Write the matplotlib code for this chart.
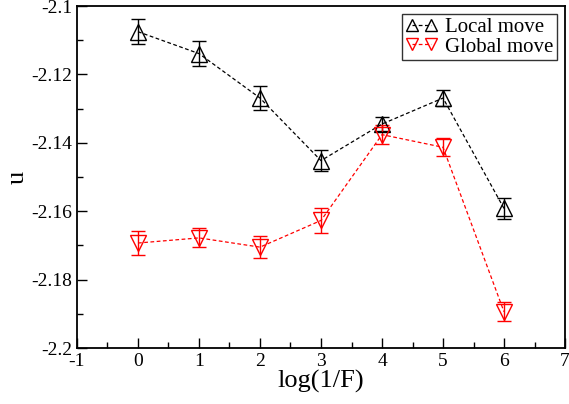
import numpy as np
import matplotlib
matplotlib.use("Agg")
import matplotlib.pyplot as plt
from matplotlib.lines import Line2D
from matplotlib.ticker import MultipleLocator, FuncFormatter

# data
x = [0, 1, 2, 3, 4, 5, 6]
local_u = [-2.1075, -2.1139, -2.1269, -2.1452, -2.1345, -2.1269, -2.1592]
local_err = [0.0037, 0.0037, 0.0035, 0.0030, 0.0020, 0.0023, 0.0030]
global_u = [-2.1693, -2.1678, -2.1705, -2.1627, -2.1376, -2.1413, -2.1894]
global_err = [0.0034, 0.0028, 0.0033, 0.0037, 0.0028, 0.0026, 0.0028]

plt.rcParams['font.family'] = ['Liberation Serif', 'DejaVu Serif']
plt.rcParams['axes.unicode_minus'] = False

fig = plt.figure(figsize=(5.69, 4.04), dpi=100)
ax = fig.add_axes([0.1353, 0.1386, 0.8577, 0.8464])

ax.errorbar(x, local_u, yerr=local_err, color='black', ls='--', lw=0.9,
            marker='^', ms=11, mfc='none', mew=1.0, capsize=5, elinewidth=1.0,
            dashes=(3, 2))
ax.errorbar(x, global_u, yerr=global_err, color='red', ls='--', lw=0.9,
            marker='v', ms=11, mfc='none', mew=1.0, capsize=5, elinewidth=1.0,
            dashes=(3, 2))

ax.set_xlim(-1, 7)
ax.set_ylim(-2.2, -2.1)
ax.xaxis.set_major_locator(MultipleLocator(1))
ax.xaxis.set_minor_locator(MultipleLocator(0.5))
ax.yaxis.set_major_locator(MultipleLocator(0.02))
ax.yaxis.set_minor_locator(MultipleLocator(0.01))
ax.yaxis.set_major_formatter(FuncFormatter(lambda v, p: ('%.2f' % v).rstrip('0')))
ax.tick_params(which='both', direction='in', top=False, right=False, labelsize=14)
ax.tick_params(which='major', length=7, width=1.0)
ax.tick_params(which='minor', length=4, width=1.0)
for s in ax.spines.values():
    s.set_linewidth(1.3)

ax.set_xlabel('log(1/F)', fontsize=19, labelpad=0)
ax.set_ylabel('u', fontsize=19)
ax.yaxis.set_label_coords(-0.1, 0.5)

handles = [
    Line2D([], [], color='black', ls='--', lw=0.9, dashes=(3, 2), marker='^', ms=9,
           mfc='none', mew=1.0),
    Line2D([], [], color='red', ls='--', lw=0.9, dashes=(3, 2), marker='v', ms=9,
           mfc='none', mew=1.0),
]
leg = ax.legend(handles, ['Local move', 'Global move'], loc='upper right', numpoints=2,
                fontsize=15, frameon=True, fancybox=False, edgecolor='black',
                handlelength=1.5, handletextpad=0.4, borderpad=0.15,
                labelspacing=0.0, borderaxespad=0.4)
leg.get_frame().set_linewidth(1.0)

fig.savefig('out.png', dpi=100)
